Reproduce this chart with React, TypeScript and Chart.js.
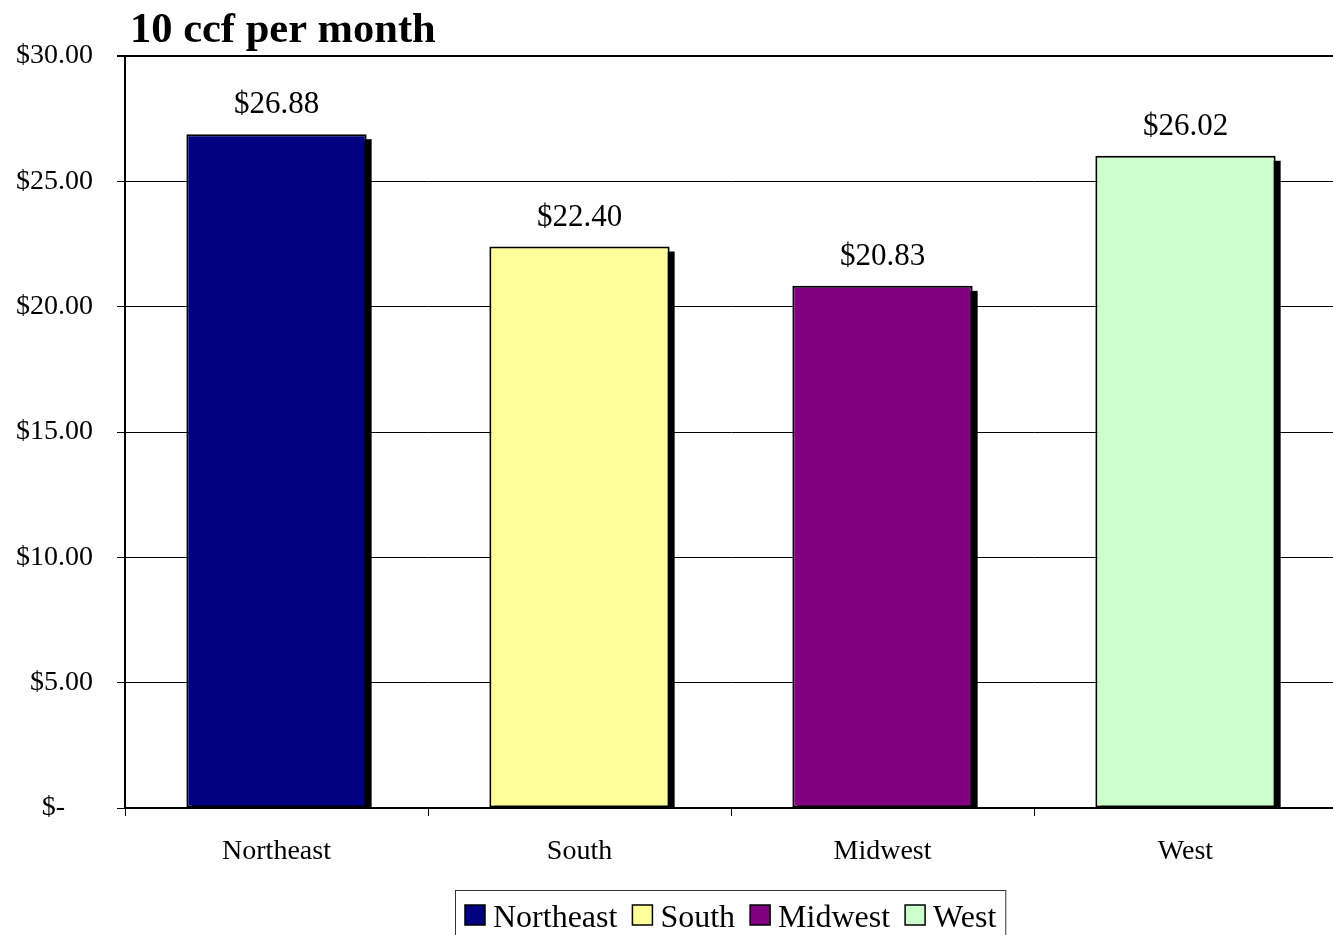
import React, { useEffect, useRef } from "react";
import { Chart, registerables } from "chart.js";

Chart.register(...registerables);

const TITLE = "10 ccf per month";
const categories = ["Northeast", "South", "Midwest", "West"];
const values = [26.88, 22.4, 20.83, 26.02];
const barColors = ["#000080", "#FFFF99", "#800080", "#CCFFCC"];
const Y_MIN = 0;
const Y_MAX = 30;
const Y_STEP = 5;

const SERIF = "'Liberation Serif', 'Times New Roman', serif";

const fmtTick = (v: number) => (v === 0 ? "$-    " : "$" + v.toFixed(2));
const fmtLabel = (v: number) => "$" + v.toFixed(2);

const shadowPlugin = {
  id: "barShadow",
  beforeDatasetsDraw(chart: any) {
    const ctx = chart.ctx;
    const meta = chart.getDatasetMeta(0);
    ctx.save();
    ctx.fillStyle = "#000000";
    meta.data.forEach((el: any) => {
      const { x, y, base, width } = el.getProps(["x", "y", "base", "width"], true);
      ctx.fillRect(x - width / 2 + 5, y + 5, width, base - y - 5);
    });
    ctx.restore();
  },
};

const valueLabelPlugin = {
  id: "valueLabels",
  afterDatasetsDraw(chart: any) {
    const ctx = chart.ctx;
    const meta = chart.getDatasetMeta(0);
    const data = chart.data.datasets[0].data as number[];
    ctx.save();
    ctx.font = `31px ${SERIF}`;
    ctx.fillStyle = "#000000";
    ctx.textAlign = "center";
    ctx.textBaseline = "alphabetic";
    meta.data.forEach((el: any, i: number) => {
      const { x, y } = el.getProps(["x", "y"], true);
      ctx.fillText(fmtLabel(data[i]), x, y - 21);
    });
    ctx.restore();
  },
};

const titlePlugin = {
  id: "leftTitle",
  afterDraw(chart: any) {
    const ctx = chart.ctx;
    ctx.save();
    ctx.font = `bold 42.5px ${SERIF}`;
    ctx.fillStyle = "#000000";
    ctx.textAlign = "left";
    ctx.textBaseline = "alphabetic";
    ctx.fillText(TITLE, chart.chartArea.left + 5, 42);
    ctx.restore();
  },
};

const legendPlugin = {
  id: "boxLegend",
  afterDraw(chart: any) {
    const ctx = chart.ctx;
    const labels = chart.data.labels as string[];
    const colors = chart.data.datasets[0].backgroundColor as string[];
    ctx.save();
    ctx.font = `32px ${SERIF}`;
    const sq = 20;
    const gapSqText = 8;
    const gapItems = 15;
    const padL = 10;
    const padR = 9;
    const widths = labels.map((l) => ctx.measureText(l).width);
    let total = padL + padR;
    widths.forEach((w, i) => {
      total += sq + gapSqText + w + (i < widths.length - 1 ? gapItems : 0);
    });
    const cx = (chart.chartArea.left + chart.chartArea.right) / 2 - 1;
    const left = Math.round(cx - total / 2) + 0.5;
    const top = 890.5;
    ctx.strokeStyle = "#333333";
    ctx.lineWidth = 1;
    ctx.strokeRect(left, top, total, 60);
    let x = left - 0.5 + padL;
    labels.forEach((l, i) => {
      ctx.fillStyle = colors[i];
      ctx.fillRect(x, 905, sq, sq);
      ctx.strokeStyle = "#000000";
      ctx.lineWidth = 1.5;
      ctx.strokeRect(x, 905, sq, sq);
      ctx.fillStyle = "#000000";
      ctx.textAlign = "left";
      ctx.textBaseline = "alphabetic";
      ctx.fillText(l, x + sq + gapSqText, 927);
      x += sq + gapSqText + widths[i] + gapItems;
    });
    ctx.restore();
  },
};

export default function App() {
  const canvasRef = useRef<HTMLCanvasElement | null>(null);

  useEffect(() => {
    document.body.style.margin = "0";
    const canvas = canvasRef.current;
    if (!canvas) return;
    const chart = new Chart(canvas, {
      type: "bar",
      data: {
        labels: categories,
        datasets: [
          {
            data: values,
            backgroundColor: barColors,
            borderColor: "#000000",
            borderWidth: 2,
            borderSkipped: false,
            barPercentage: 0.595,
            categoryPercentage: 1,
          },
        ],
      },
      options: {
        responsive: false,
        animation: false,
        devicePixelRatio: 1,
        layout: { padding: { top: 56, left: 0, right: 3, bottom: 0 } },
        plugins: {
          legend: { display: false },
          title: { display: false },
          tooltip: { enabled: false },
        },
        scales: {
          x: {
            offset: true,
            grid: {
              display: true,
              drawOnChartArea: false,
              drawTicks: true,
              tickLength: 8,
              offset: true,
              color: "#000000",
              lineWidth: 1,
            },
            border: { display: true, color: "#000000", width: 2 },
            ticks: {
              font: { family: SERIF, size: 28 },
              color: "#000000",
              padding: 19,
              maxRotation: 0,
              autoSkip: false,
            },
            afterFit(scale: any) {
              scale.height = 127;
            },
          },
          y: {
            min: Y_MIN,
            max: Y_MAX,
            grid: {
              color: "#000000",
              lineWidth: (c: any) => (c.tick && c.tick.value === Y_MAX ? 2 : 1),
              drawTicks: true,
              tickLength: 8,
            },
            border: { display: true, color: "#000000", width: 2 },
            ticks: {
              stepSize: Y_STEP,
              font: { family: SERIF, size: 28 },
              color: "#000000",
              padding: 24,
              autoSkip: false,
              callback: (v: any) => fmtTick(Number(v)),
            },
            afterFit(scale: any) {
              scale.width = 125;
            },
          },
        },
      },
      plugins: [shadowPlugin, valueLabelPlugin, titlePlugin, legendPlugin],
    } as any);
    return () => chart.destroy();
  }, []);

  return (
    <div
      style={{
        position: "absolute",
        left: 0,
        top: 0,
        width: 1333,
        height: 935,
        overflow: "hidden",
        background: "#ffffff",
      }}
    >
      <canvas
        ref={canvasRef}
        width={1340}
        height={935}
        style={{ display: "block", width: 1340, height: 935 }}
      />
    </div>
  );
}
